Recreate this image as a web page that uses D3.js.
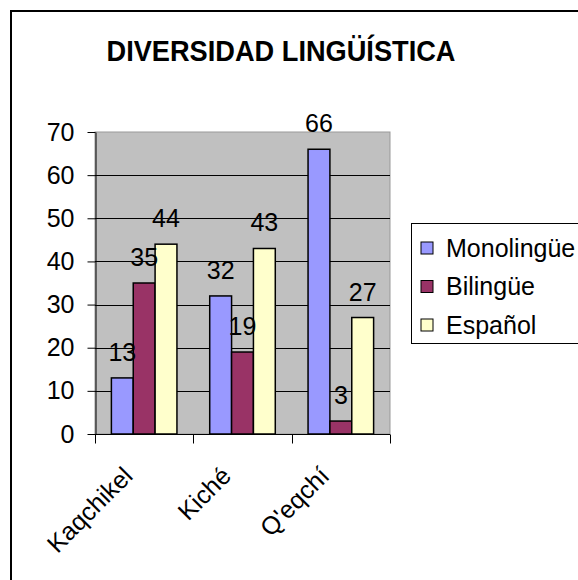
<!DOCTYPE html>
<html lang="es">
<head>
    <meta charset="UTF-8">
    <title>Diversidad lingüística</title>
    <script src="https://cdnjs.cloudflare.com/ajax/libs/d3/7.8.5/d3.min.js"></script>
    <style>
        body { margin: 0; background: #fff; }
        svg { display: block; font-family: "Liberation Sans", Arial, sans-serif; }
    </style>
</head>
<body>
    <div id="chart"></div>
    <script>
        // data
        const categories = ["Kaqchikel", "Kiché", "Q'eqchí"];
        const seriesNames = ["Monolingüe", "Bilingüe", "Español"];
        const monolingue = [13, 32, 66];
        const bilingue = [35, 19, 3];
        const espanol = [44, 43, 27];
        const yTicks = [0, 10, 20, 30, 40, 50, 60, 70];
        const colors = ["#9999FF", "#993366", "#FFFFCC"];

        const series = [monolingue, bilingue, espanol];
        const rows = [];
        categories.forEach((c, i) => {
            series.forEach((s, j) => rows.push({ cat: c, key: seriesNames[j], value: s[i] }));
        });

        const W = 578, H = 580;
        const plot = { left: 95, right: 390, top: 132, bottom: 434 };

        const svg = d3.select("#chart").append("svg")
            .attr("width", W)
            .attr("height", H);

        svg.append("rect").attr("width", W).attr("height", H).attr("fill", "#fff");

        // outer chart border (right/bottom fall outside the picture)
        svg.append("rect")
            .attr("x", 11).attr("y", 11)
            .attr("width", W + 20).attr("height", H + 20)
            .attr("fill", "none")
            .attr("stroke", "#000")
            .attr("stroke-width", 2);

        svg.append("text")
            .attr("x", 281)
            .attr("y", 61)
            .attr("text-anchor", "middle")
            .attr("textLength", 349)
            .attr("lengthAdjust", "spacingAndGlyphs")
            .style("font-size", "29px")
            .style("font-weight", "bold")
            .text("DIVERSIDAD LINGÜÍSTICA");

        const y = d3.scaleLinear().domain([0, 70]).range([plot.bottom, plot.top]);
        const x = d3.scaleBand().domain(categories).range([plot.left, plot.right]).padding(0);
        const gap = x.bandwidth() / 3;
        const xs = d3.scaleBand().domain(seriesNames)
            .range([gap / 2, x.bandwidth() - gap / 2]).padding(0);

        // plot area
        svg.append("rect")
            .attr("x", plot.left).attr("y", plot.top)
            .attr("width", plot.right - plot.left)
            .attr("height", plot.bottom - plot.top)
            .attr("fill", "#C0C0C0")
            .attr("stroke", "#999")
            .attr("stroke-width", 1);

        // gridlines
        svg.append("g")
            .selectAll("line")
            .data(yTicks.filter(d => d > 0 && d < 70))
            .join("line")
            .attr("x1", plot.left).attr("x2", plot.right)
            .attr("y1", d => Math.round(y(d)) + 0.5)
            .attr("y2", d => Math.round(y(d)) + 0.5)
            .attr("stroke", "#000")
            .attr("stroke-width", 1);

        // y axis
        const yAxis = svg.append("g")
            .attr("transform", `translate(${plot.left + 0.5},0)`)
            .call(d3.axisLeft(y).tickValues(yTicks).tickSize(8).tickPadding(13).tickSizeOuter(0));
        yAxis.select(".domain").attr("stroke", "#000");
        yAxis.selectAll(".tick line").attr("stroke", "#000");
        yAxis.selectAll(".tick text")
            .style("font-size", "25px")
            .style("font-family", "Liberation Sans, Arial, sans-serif")
            .attr("fill", "#000");

        // x axis with ticks on category boundaries
        const xAxis = svg.append("g")
            .attr("transform", `translate(0,${plot.bottom + 0.5})`);
        xAxis.append("line")
            .attr("x1", plot.left).attr("x2", plot.right)
            .attr("stroke", "#000");
        const bounds = categories.map(c => x(c)).concat([plot.right]);
        xAxis.selectAll(".tk")
            .data(bounds)
            .join("line")
            .attr("class", "tk")
            .attr("x1", d => Math.round(d) + 0.5).attr("x2", d => Math.round(d) + 0.5)
            .attr("y1", 0).attr("y2", 9)
            .attr("stroke", "#000");

        xAxis.selectAll(".lbl")
            .data(categories)
            .join("text")
            .attr("class", "lbl")
            .attr("text-anchor", "end")
            .attr("transform", d => `translate(${x(d) + x.bandwidth() / 2 - 10},${43}) rotate(-45)`)
            .style("font-size", "25px")
            .text(d => d);

        // bars
        svg.append("g")
            .selectAll("rect")
            .data(rows)
            .join("rect")
            .attr("x", d => x(d.cat) + xs(d.key))
            .attr("y", d => y(d.value))
            .attr("width", xs.bandwidth())
            .attr("height", d => y(0) - y(d.value))
            .attr("fill", d => colors[seriesNames.indexOf(d.key)])
            .attr("stroke", "#000")
            .attr("stroke-width", 1.5);

        // value labels
        svg.append("g")
            .selectAll("text")
            .data(rows)
            .join("text")
            .attr("x", d => x(d.cat) + xs(d.key) + xs.bandwidth() / 2)
            .attr("y", d => y(d.value) - 17)
            .attr("text-anchor", "middle")
            .style("font-size", "25px")
            .text(d => d.value);

        // legend
        const legend = svg.append("g");
        legend.append("rect")
            .attr("x", 411.5).attr("y", 223.5)
            .attr("width", 200).attr("height", 120)
            .attr("fill", "#fff")
            .attr("stroke", "#000");
        const item = legend.selectAll(".item")
            .data(seriesNames)
            .join("g")
            .attr("class", "item")
            .attr("transform", (d, i) => `translate(421,${248 + i * 38.5})`);
        item.append("rect")
            .attr("x", 0).attr("y", -6)
            .attr("width", 12).attr("height", 12)
            .attr("fill", (d, i) => colors[i])
            .attr("stroke", "#000");
        item.append("text")
            .attr("x", 25)
            .attr("y", 0)
            .attr("dy", "0.35em")
            .style("font-size", "25px")
            .text(d => d);
    </script>
</body>
</html>
